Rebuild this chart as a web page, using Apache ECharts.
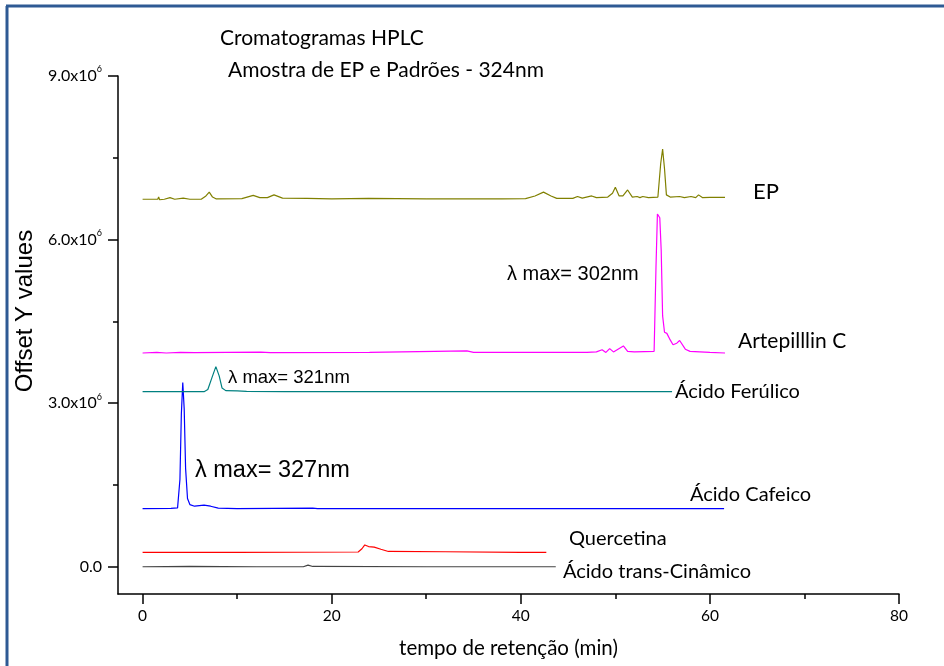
<!DOCTYPE html>
<html>
<head>
<meta charset="utf-8">
<script src="https://cdn.jsdelivr.net/npm/echarts@6/dist/echarts.min.js"></script>
<style>
  html, body { margin: 0; padding: 0; background: #fff; }
  #main { width: 944px; height: 666px; }
</style>
</head>
<body>
<div id="main"></div>
<script>
// tempo (min), sinal (x10^6, ja com offset)
var cinamico = [[0,0],[5,0.005],[12,0],[17,0],[17.5,0.03],[18,0.005],[30,0],[43.7,0]];
var quercetina = [[0,0.265],[10,0.265],[22.8,0.27],[23.2,0.33],[23.5,0.4],[23.9,0.37],[24.5,0.36],
  [25.2,0.32],[26,0.28],[32,0.275],[40,0.265],[42.7,0.265]];
var cafeico = [[0,1.067],[3,1.07],[3.7,1.08],[3.95,1.6],[4.1,2.8],[4.25,3.38],[4.4,2.9],[4.55,1.8],
  [4.75,1.25],[5,1.14],[5.5,1.11],[6.5,1.13],[7.2,1.11],[8,1.075],[10,1.067],[18,1.075],[18.5,1.067],
  [30,1.067],[45,1.067],[61.5,1.067]];
var ferulico = [[0,3.21],[6.5,3.21],[6.9,3.25],[7.3,3.45],[7.75,3.67],[8.1,3.5],[8.4,3.28],[8.8,3.23],
  [10,3.225],[11,3.215],[15,3.21],[56,3.21]];
var artepillin = [[0,3.92],[1.5,3.93],[2.5,3.92],[4,3.93],[5.5,3.925],[12.5,3.935],[13.5,3.925],[24,3.93],
  [34.3,3.96],[35,3.93],[47,3.93],[48,3.94],[48.6,3.98],[49,3.93],[49.4,4.0],[49.8,3.94],[50.85,4.05],
  [51.3,3.95],[52,3.94],[54.1,3.95],[54.3,5.5],[54.45,6.47],[54.7,6.4],[54.85,5.8],[55,4.6],[55.2,4.3],
  [55.45,4.28],[55.8,4.16],[56.1,4.07],[56.5,4.1],[56.8,4.15],[57.4,3.99],[57.9,3.95],[60,3.93],[61.6,3.92]];
var ep = [[0,6.74],[1.6,6.74],[1.7,6.78],[1.8,6.73],[2.3,6.74],[2.9,6.77],[3.4,6.74],[4.3,6.76],[5,6.74],
  [6.2,6.74],[6.7,6.8],[7.05,6.87],[7.4,6.78],[7.8,6.745],[10.5,6.75],[11.7,6.81],[12.4,6.77],[13.2,6.77],
  [13.9,6.82],[14.8,6.76],[17.4,6.755],[20,6.745],[23.9,6.755],[30,6.745],[38,6.745],[40.5,6.75],[41.5,6.8],
  [42.4,6.87],[43.2,6.8],[43.8,6.755],[45.5,6.755],[46,6.79],[46.5,6.76],[47.5,6.8],[48,6.77],[49.2,6.78],
  [49.7,6.85],[50,6.96],[50.4,6.8],[50.8,6.8],[51.3,6.91],[51.8,6.78],[52.3,6.79],[52.6,6.77],[52.9,6.79],
  [53.5,6.77],[54.5,6.78],[54.8,7.4],[55,7.66],[55.2,7.3],[55.4,6.82],[55.8,6.78],[56.8,6.79],[57.3,6.77],
  [58,6.79],[58.5,6.77],[58.8,6.82],[59.2,6.77],[60,6.775],[61.6,6.775]];

var xMajor = [0, 20, 40, 60, 80];
var xMinor = [10, 30, 50, 70];
var yMajor = [0, 3, 6, 9];
var yMinor = [1.5, 4.5, 7.5];

var chart = echarts.init(document.getElementById('main'));

function linha(nome, dados, cor) {
  return {
    name: nome, type: 'line', data: dados, symbol: 'none', smooth: false,
    lineStyle: { color: cor, width: 1.2 }, silent: true, animation: false
  };
}

function texto(t, x, y, tam, fam) {
  return {
    type: 'text', x: x, y: y, silent: true,
    style: { text: t, font: tam + 'px ' + fam, fill: '#000', verticalAlign: 'middle' }
  };
}

var eixo = { onZero: false, lineStyle: { color: '#000', width: 1.5 } };

var option = {
  backgroundColor: '#fff',
  animation: false,
  title: [
    { text: 'Cromatogramas HPLC', left: 215, top: 23,
      textStyle: { fontFamily: 'Lato', fontSize: 21, fontWeight: 'normal', color: '#000' } },
    { text: 'Amostra de EP e Padrões - 324nm', left: 223, top: 55,
      textStyle: { fontFamily: 'Lato', fontSize: 21, fontWeight: 'normal', color: '#000' } }
  ],
  grid: { left: 118, right: 45, top: 76, bottom: 72, containLabel: false },
  xAxis: [{
    type: 'value', min: -2.6, max: 80,
    name: 'tempo de retenção (min)', nameLocation: 'middle', nameGap: 44,
    nameTextStyle: { fontFamily: 'Lato', fontSize: 20.5, color: '#000' },
    axisLine: eixo,
    axisTick: { length: 10, lineStyle: { color: '#000', width: 1.5 }, customValues: xMajor },
    axisLabel: { customValues: xMajor, margin: 14, fontFamily: 'Lato', fontSize: 15.5, color: '#000' },
    splitLine: { show: false }
  }, {
    type: 'value', min: -2.6, max: 80, position: 'bottom',
    axisLine: { show: false, onZero: false },
    axisTick: { length: 5, lineStyle: { color: '#000', width: 1.5 }, customValues: xMinor },
    axisLabel: { show: false },
    splitLine: { show: false }
  }],
  yAxis: [{
    type: 'value', min: -0.5, max: 9,
    name: 'Offset Y values', nameLocation: 'middle', nameGap: 78,
    nameTextStyle: { fontFamily: 'Liberation Sans', fontSize: 24, color: '#000', padding: [0, 0, 0, 48] },
    axisLine: eixo,
    axisTick: { length: 10, lineStyle: { color: '#000', width: 1.5 }, customValues: yMajor },
    axisLabel: {
      customValues: yMajor, margin: 16,
      formatter: function (v) {
        return v === 0 ? '{a|0.0}' : '{a|' + v.toFixed(1) + 'x10}{s|6}';
      },
      rich: {
        a: { fontFamily: 'Lato', fontSize: 16, color: '#000', lineHeight: 22 },
        s: { fontFamily: 'Lato', fontSize: 9, color: '#000', verticalAlign: 'top', lineHeight: 10 }
      }
    },
    splitLine: { show: false }
  }, {
    type: 'value', min: -0.5, max: 9, position: 'left',
    axisLine: { show: false, onZero: false },
    axisTick: { length: 5, lineStyle: { color: '#000', width: 1.5 }, customValues: yMinor },
    axisLabel: { show: false },
    splitLine: { show: false }
  }],
  series: [
    linha('Ácido trans-Cinâmico', cinamico, '#444444'),
    linha('Quercetina', quercetina, '#ff0000'),
    linha('Ácido Cafeico', cafeico, '#0000ff'),
    linha('Ácido Ferúlico', ferulico, '#008080'),
    linha('Artepillin C', artepillin, '#ff00ff'),
    linha('EP', ep, '#808000')
  ],
  graphic: [
    { type: 'line', silent: true, shape: { x1: 7, y1: 6, x2: 7, y2: 666 },
      style: { stroke: '#2e5a94', lineWidth: 3 } },
    { type: 'line', silent: true, shape: { x1: 6, y1: 6, x2: 944, y2: 6 },
      style: { stroke: '#2e5a94', lineWidth: 3 } },
    texto('EP', 753, 192, 22, 'Lato'),
    texto('Artepilllin C', 738, 341, 21, 'Lato'),
    texto('Ácido Ferúlico', 675, 392, 20, 'Lato'),
    texto('Ácido Cafeico', 690, 495, 20, 'Lato'),
    texto('Quercetina', 569, 539, 20, 'Lato'),
    texto('Ácido trans-Cinâmico', 563, 572, 20, 'Lato'),
    texto('λ max= 302nm', 507, 274, 20, 'Liberation Sans'),
    texto('λ max= 321nm', 228, 378, 18.5, 'Liberation Sans'),
    texto('λ max= 327nm', 195, 471, 23.5, 'Liberation Sans')
  ]
};

chart.setOption(option);
</script>
</body>
</html>
